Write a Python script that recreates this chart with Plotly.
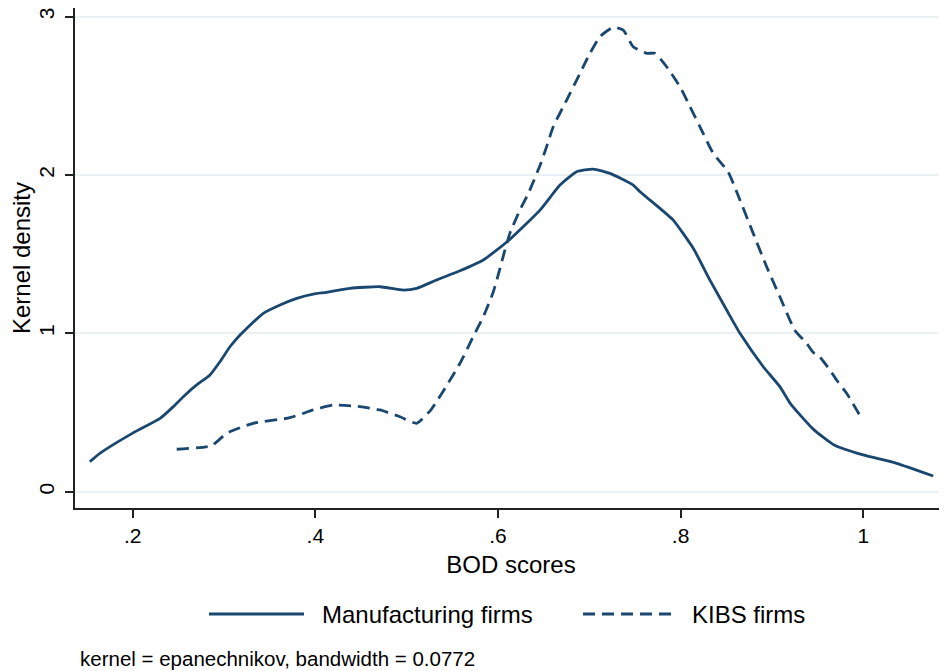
import plotly.graph_objects as go

# Manufacturing firms (solid)
manu_x = [0.153, 0.164, 0.200, 0.230, 0.2445, 0.2554, 0.270, 0.2846, 0.2956, 0.3065, 0.3175,
          0.3248, 0.343, 0.3613, 0.3796, 0.3977, 0.4124, 0.4379, 0.4708, 0.4963, 0.511, 0.5329,
          0.5584, 0.5839, 0.611, 0.646, 0.6679, 0.6861, 0.7043, 0.7226, 0.7481, 0.7555, 0.7774,
          0.7919, 0.8138, 0.8321, 0.8504, 0.865, 0.8905, 0.9087, 0.920, 0.9452, 0.968, 1.0,
          1.0365, 1.0766]
manu_y = [0.189, 0.242, 0.370, 0.463, 0.537, 0.600, 0.674, 0.737, 0.821, 0.915, 0.989,
          1.031, 1.126, 1.179, 1.221, 1.248, 1.259, 1.284, 1.294, 1.273, 1.284, 1.337,
          1.395, 1.463, 1.583, 1.778, 1.936, 2.020, 2.037, 2.010, 1.936, 1.894, 1.789,
          1.715, 1.537, 1.336, 1.147, 1.000, 0.789, 0.663, 0.558, 0.395, 0.295, 0.232,
          0.179, 0.099]

# KIBS firms (dashed)
kibs_x = [0.2482, 0.2865, 0.3029, 0.332, 0.3722, 0.3977, 0.4196, 0.4489, 0.4708, 0.4927, 0.511,
          0.527, 0.5438, 0.5584, 0.5729, 0.5839, 0.5948, 0.6022, 0.6076, 0.613, 0.624, 0.633,
          0.646, 0.6533, 0.6605, 0.6752, 0.6898, 0.7007, 0.7117, 0.7262, 0.7372, 0.7481, 0.7628,
          0.7719, 0.7847, 0.7993, 0.8103, 0.8212, 0.8357, 0.852, 0.863, 0.8795, 0.8942, 0.9087,
          0.925, 0.938, 0.945, 0.9525, 0.9635, 0.9708, 0.9818, 0.9982]
kibs_y = [0.268, 0.291, 0.369, 0.432, 0.467, 0.516, 0.547, 0.537, 0.516, 0.473, 0.432,
          0.520, 0.670, 0.811, 0.979, 1.105, 1.260, 1.410, 1.526, 1.631, 1.778, 1.880,
          2.060, 2.180, 2.304, 2.473, 2.641, 2.768, 2.873, 2.932, 2.915, 2.809, 2.768,
          2.768, 2.683, 2.557, 2.431, 2.304, 2.136, 2.020, 1.870, 1.631, 1.420, 1.231,
          1.020, 0.937, 0.880, 0.850, 0.768, 0.705, 0.621, 0.463]

x_ticks = [0.2, 0.4, 0.6, 0.8, 1.0]
x_tick_labels = [".2", ".4", ".6", ".8", "1"]
y_ticks = [0, 1, 2, 3]
y_tick_labels = ["0", "1", "2", "3"]

series_names = ["Manufacturing firms", "KIBS firms"]
note_text = "kernel = epanechnikov, bandwidth = 0.0772"

NAVY = "#1a476f"
FONT = "Liberation Sans, Arial, sans-serif"
DASH = "12px,7px"
LW = 2.8

fig = go.Figure()
fig.add_trace(go.Scatter(x=manu_x, y=manu_y, mode="lines", name=series_names[0],
                         line=dict(color=NAVY, width=LW, shape="spline", smoothing=0.5),
                         showlegend=False))
fig.add_trace(go.Scatter(x=kibs_x, y=kibs_y, mode="lines", name=series_names[1],
                         line=dict(color=NAVY, width=LW, dash=DASH, shape="spline", smoothing=0.5),
                         showlegend=False))

# manual legend (paper coordinates)
leg_y = -0.212
fig.add_shape(type="line", xref="paper", yref="paper", x0=0.1537, x1=0.2626, y0=leg_y, y1=leg_y,
              line=dict(color=NAVY, width=LW))
fig.add_shape(type="line", xref="paper", yref="paper", x0=0.5826, x1=0.6904, y0=leg_y, y1=leg_y,
              line=dict(color=NAVY, width=LW, dash=DASH))
fig.add_annotation(xref="paper", yref="paper", x=0.281, y=leg_y, text=series_names[0],
                   showarrow=False, xanchor="left", yanchor="middle",
                   font=dict(family=FONT, size=24, color="#000000"))
fig.add_annotation(xref="paper", yref="paper", x=0.7053, y=leg_y, text=series_names[1],
                   showarrow=False, xanchor="left", yanchor="middle",
                   font=dict(family=FONT, size=24, color="#000000"))
fig.add_annotation(xref="paper", yref="paper", x=0.0034, y=-0.30, text=note_text,
                   showarrow=False, xanchor="left", yanchor="middle",
                   font=dict(family=FONT, size=20.5, color="#000000"))

fig.update_layout(
    width=939, height=663,
    margin=dict(l=67, r=0, t=0, b=163, pad=0),
    paper_bgcolor="white", plot_bgcolor="white",
    font=dict(family=FONT, color="#000000"),
    xaxis=dict(range=[0.1368, 1.0917], tickvals=x_ticks, ticktext=x_tick_labels,
               showgrid=False, zeroline=False, showline=True, linecolor="#222222", linewidth=1.5,
               ticks="outside", ticklen=8, tickwidth=1.5, tickcolor="#222222",
               tickfont=dict(size=21, family=FONT), ticklabeloverflow="allow",
               title=dict(text="BOD scores", font=dict(size=24, family=FONT), standoff=10)),
    yaxis=dict(range=[-0.103, 3.054], tickvals=y_ticks, ticktext=y_tick_labels,
               showgrid=True, gridcolor="#e9f1f3", gridwidth=1.6, zeroline=False,
               showline=True, linecolor="#222222", linewidth=1.5,
               ticks="outside", ticklen=8, tickwidth=1.5, tickcolor="#222222",
               tickangle=-90, tickfont=dict(size=21, family=FONT), ticklabelstandoff=3,
               ticklabeloverflow="allow",
               title=dict(text="Kernel density", font=dict(size=24, family=FONT), standoff=6)),
)

fig.write_html("out.html")
